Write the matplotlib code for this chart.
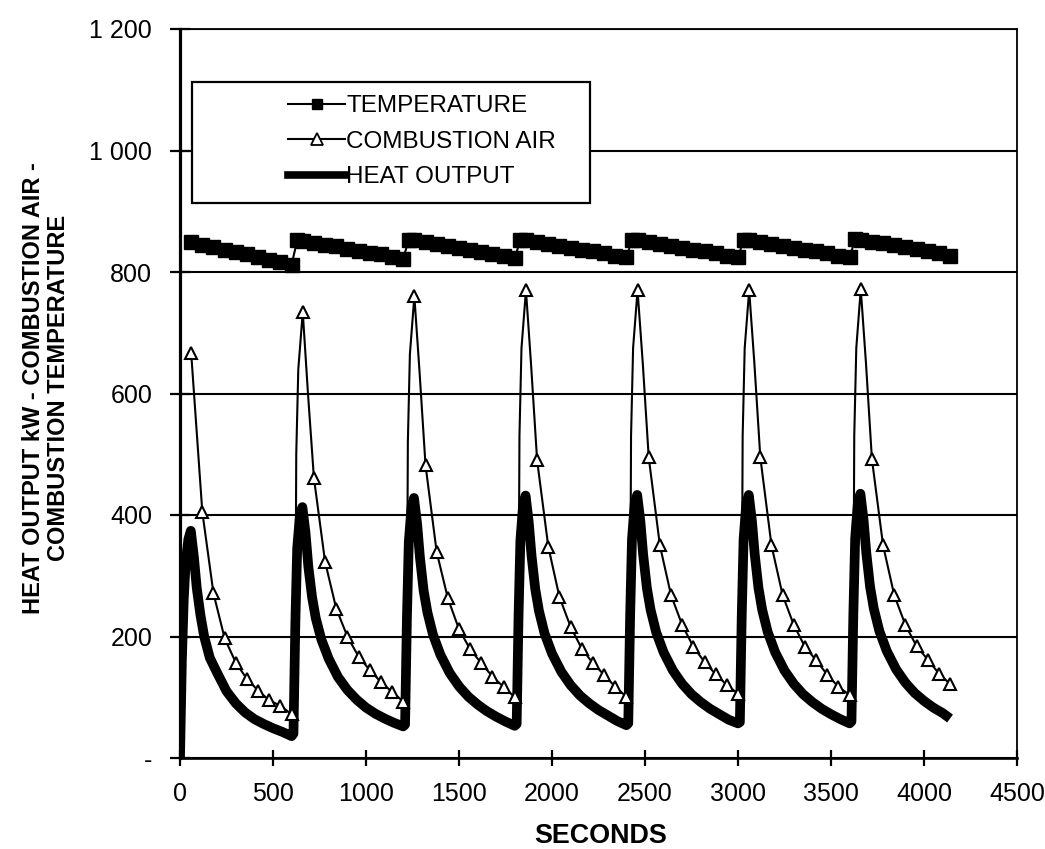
import numpy as np
import matplotlib
matplotlib.use("Agg")
import matplotlib.pyplot as plt
from matplotlib import font_manager
from matplotlib.lines import Line2D
from matplotlib.patches import Rectangle

# ---------------- data ----------------
# Combustion temperature (filled squares)
TEMP_T = [60, 120, 180, 240, 300, 360, 420, 480, 540, 600,
          630, 660, 720, 780, 840, 900, 960, 1020, 1080, 1140, 1200,
          1230, 1260, 1320, 1380, 1440, 1500, 1560, 1620, 1680, 1740, 1800,
          1830, 1860, 1920, 1980, 2040, 2100, 2160, 2220, 2280, 2340, 2400,
          2430, 2460, 2520, 2580, 2640, 2700, 2760, 2820, 2880, 2940, 3000,
          3030, 3060, 3120, 3180, 3240, 3300, 3360, 3420, 3480, 3540, 3600,
          3630, 3660, 3720, 3780, 3840, 3900, 3960, 4020, 4080, 4140]
TEMP_V = [849, 845, 841, 837, 833, 829, 824, 820, 816, 812,
          852, 851, 848, 845, 842, 838, 835, 832, 829, 825, 822,
          853, 852, 849, 846, 843, 840, 836, 833, 830, 827, 823,
          853, 852, 849, 846, 843, 840, 837, 834, 831, 827, 824,
          853, 852, 849, 846, 843, 840, 837, 834, 831, 827, 824,
          853, 852, 849, 846, 843, 840, 837, 834, 831, 827, 824,
          854, 853, 850, 847, 844, 841, 838, 835, 832, 827]

# Combustion air (open triangles on the sampled points)
CA_T = [60, 120, 180, 240, 300, 360, 420, 480, 540, 600,
        620, 625, 636, 660, 688, 720, 780, 840, 900, 960, 1020, 1080, 1140, 1200,
        1220, 1225, 1236, 1260, 1288, 1320, 1380, 1440, 1500, 1560, 1620, 1680, 1740, 1800,
        1820, 1825, 1836, 1860, 1888, 1920, 1980, 2040, 2100, 2160, 2220, 2280, 2340, 2400,
        2420, 2425, 2436, 2460, 2488, 2520, 2580, 2640, 2700, 2760, 2820, 2880, 2940, 3000,
        3020, 3025, 3036, 3060, 3088, 3120, 3180, 3240, 3300, 3360, 3420, 3480, 3540, 3600,
        3620, 3625, 3636, 3660, 3688, 3720, 3780, 3840, 3900, 3960, 4020, 4080, 4140]
CA_V = [667, 405, 271, 197, 157, 130, 111, 95, 86, 72,
        160, 500, 640, 734, 600, 461, 323, 246, 200, 167, 145, 125, 109, 93,
        180, 520, 665, 760, 635, 482, 339, 263, 212, 179, 156, 134, 117, 100,
        185, 530, 675, 770, 645, 490, 348, 265, 216, 180, 156, 137, 117, 101,
        185, 530, 675, 770, 650, 495, 350, 268, 219, 183, 158, 138, 120, 106,
        190, 530, 675, 770, 650, 495, 350, 268, 219, 183, 161, 137, 117, 104,
        190, 530, 675, 772, 650, 492, 350, 268, 219, 184, 162, 139, 122]
CA_MARKED = [1, 1, 1, 1, 1, 1, 1, 1, 1, 1,
             0, 0, 0, 1, 0, 1, 1, 1, 1, 1, 1, 1, 1, 1,
             0, 0, 0, 1, 0, 1, 1, 1, 1, 1, 1, 1, 1, 1,
             0, 0, 0, 1, 0, 1, 1, 1, 1, 1, 1, 1, 1, 1,
             0, 0, 0, 1, 0, 1, 1, 1, 1, 1, 1, 1, 1, 1,
             0, 0, 0, 1, 0, 1, 1, 1, 1, 1, 1, 1, 1, 1,
             0, 0, 0, 1, 0, 1, 1, 1, 1, 1, 1, 1, 1]

# Heat output kW (heavy line)
HEAT_T = [0, 10, 20, 30, 45, 58, 75, 90, 110, 130, 160, 200, 250, 300, 350, 400, 450, 500, 550, 600,
          610, 620, 630, 645, 658, 675, 690, 710, 730, 760, 800, 850, 900, 950, 1000, 1050, 1100, 1150, 1200,
          1210, 1220, 1230, 1245, 1258, 1275, 1290, 1310, 1330, 1360, 1400, 1450, 1500, 1550, 1600, 1650, 1700, 1750, 1800,
          1810, 1820, 1830, 1845, 1858, 1875, 1890, 1910, 1930, 1960, 2000, 2050, 2100, 2150, 2200, 2250, 2300, 2350, 2400,
          2410, 2420, 2430, 2445, 2458, 2475, 2490, 2510, 2530, 2560, 2600, 2650, 2700, 2750, 2800, 2850, 2900, 2950, 3000,
          3010, 3020, 3030, 3045, 3058, 3075, 3090, 3110, 3130, 3160, 3200, 3250, 3300, 3350, 3400, 3450, 3500, 3550, 3600,
          3610, 3620, 3630, 3645, 3658, 3675, 3690, 3710, 3730, 3760, 3800, 3850, 3900, 3950, 4000, 4050, 4100, 4140]
HEAT_V = [0, 160, 260, 320, 360, 374, 330, 280, 235, 200, 165, 140, 110, 90, 75, 64, 56, 49, 43, 36,
          40, 220, 345, 400, 413, 370, 315, 265, 230, 195, 163, 133, 112, 96, 83, 73, 65, 58, 52,
          55, 230, 355, 415, 428, 385, 330, 275, 240, 203, 170, 140, 118, 101, 88, 77, 68, 60, 53,
          56, 232, 358, 418, 432, 388, 333, 278, 242, 205, 172, 142, 120, 103, 90, 79, 70, 61, 54,
          57, 233, 360, 420, 433, 390, 335, 280, 244, 207, 174, 144, 122, 105, 92, 81, 72, 63, 57,
          59, 233, 360, 420, 433, 390, 335, 280, 244, 207, 174, 144, 122, 105, 92, 81, 72, 64, 57,
          60, 235, 362, 422, 435, 392, 337, 282, 246, 209, 176, 146, 124, 107, 94, 83, 74, 65]

X_TICKS = [0, 500, 1000, 1500, 2000, 2500, 3000, 3500, 4000, 4500]
Y_TICKS = [0, 200, 400, 600, 800, 1000, 1200]
Y_TICK_LABELS = ["-", "200", "400", "600", "800", "1 000", "1 200"]
SERIES_LABELS = ["TEMPERATURE", "COMBUSTION AIR", "HEAT OUTPUT"]

# ---------------- fonts ----------------
available = {f.name for f in font_manager.fontManager.ttflist}
if "Liberation Sans Narrow" in available:
    NUM_FONT, NUM_SIZE, LEG_SIZE = "Liberation Sans Narrow", 20.5, 21
else:
    NUM_FONT, NUM_SIZE, LEG_SIZE = "Liberation Sans", 18, 17.5
LAB_FONT = "Liberation Sans"

W, H = 1045, 849
fig = plt.figure(figsize=(W / 100, H / 100), dpi=100)
fig.patch.set_facecolor("white")

L, R, T, B = 180, 1017, 29, 758
ax = fig.add_axes([L / W, 1 - B / H, (R - L) / W, (B - T) / H])
ax.set_xlim(0, 4500)
ax.set_ylim(0, 1200)

# horizontal grid
ax.set_yticks(Y_TICKS)
ax.set_yticklabels(Y_TICK_LABELS)
ax.set_xticks(X_TICKS)
ax.set_xticklabels([str(v) for v in X_TICKS])
ax.yaxis.grid(True, color="black", lw=1.5)
ax.set_axisbelow(True)

for lab in ax.get_xticklabels() + ax.get_yticklabels():
    lab.set_fontfamily(NUM_FONT)
    lab.set_fontsize(NUM_SIZE)
    lab.set_color("black")

ax.tick_params(axis="x", direction="inout", length=11, width=1.6, pad=12)
ax.tick_params(axis="y", direction="inout", length=14, width=1.6, pad=13)

ax.spines["left"].set_linewidth(2.3)
ax.spines["bottom"].set_linewidth(1.9)
ax.spines["top"].set_linewidth(1.3)
ax.spines["right"].set_linewidth(1.3)
for s in ax.spines.values():
    s.set_color("black")

# series
ax.plot(HEAT_T, HEAT_V, color="black", lw=7, solid_joinstyle="round",
        solid_capstyle="butt", zorder=3)

ca_t = np.array(CA_T)
ca_v = np.array(CA_V)
ca_m = np.array(CA_MARKED, dtype=bool)
ax.plot(ca_t, ca_v, color="black", lw=1.5, zorder=4)
ax.plot(ca_t[ca_m], ca_v[ca_m], linestyle="none", marker="^", ms=9,
        mfc="white", mec="black", mew=1.5, zorder=5)

ax.plot(TEMP_T, TEMP_V, color="black", lw=1.5, marker="s", ms=10,
        mfc="black", mec="black", zorder=4)

# legend box
ax.add_patch(Rectangle(((191.7 - L) / (R - L), (B - 203) / (B - T)),
                       (590 - 191.7) / (R - L), (203 - 81.7) / (B - T),
                       transform=ax.transAxes, facecolor="white",
                       edgecolor="black", lw=1.6, zorder=6))
handles = [
    Line2D([], [], color="black", lw=1.5, marker="s", ms=7, mfc="black"),
    Line2D([], [], color="black", lw=1.5, marker="^", ms=8, mfc="white", mew=1.3),
    Line2D([], [], color="black", lw=5.5),
]
leg = ax.legend(handles, SERIES_LABELS, loc="center left",
                bbox_to_anchor=((288 - L) / (R - L), (B - 141.7) / (B - T)),
                frameon=False, borderpad=0, borderaxespad=0,
                handlelength=2.35, handletextpad=0.05, labelspacing=0.55,
                prop={"family": NUM_FONT, "size": LEG_SIZE})
leg.set_zorder(7)

# axis titles
fig.text(601 / W, 1 - 843 / H, "SECONDS", ha="center", va="baseline",
         fontfamily=LAB_FONT, fontweight="bold", fontsize=19.4)
fig.text(46 / W, 1 - 388 / H,
         "HEAT OUTPUT kW - COMBUSTION AIR -\nCOMBUSTION TEMPERATURE",
         rotation=90, ha="center", va="center", multialignment="center",
         linespacing=1.1, fontfamily=LAB_FONT, fontweight="bold", fontsize=17)

fig.savefig("out.png", dpi=100, facecolor="white")
